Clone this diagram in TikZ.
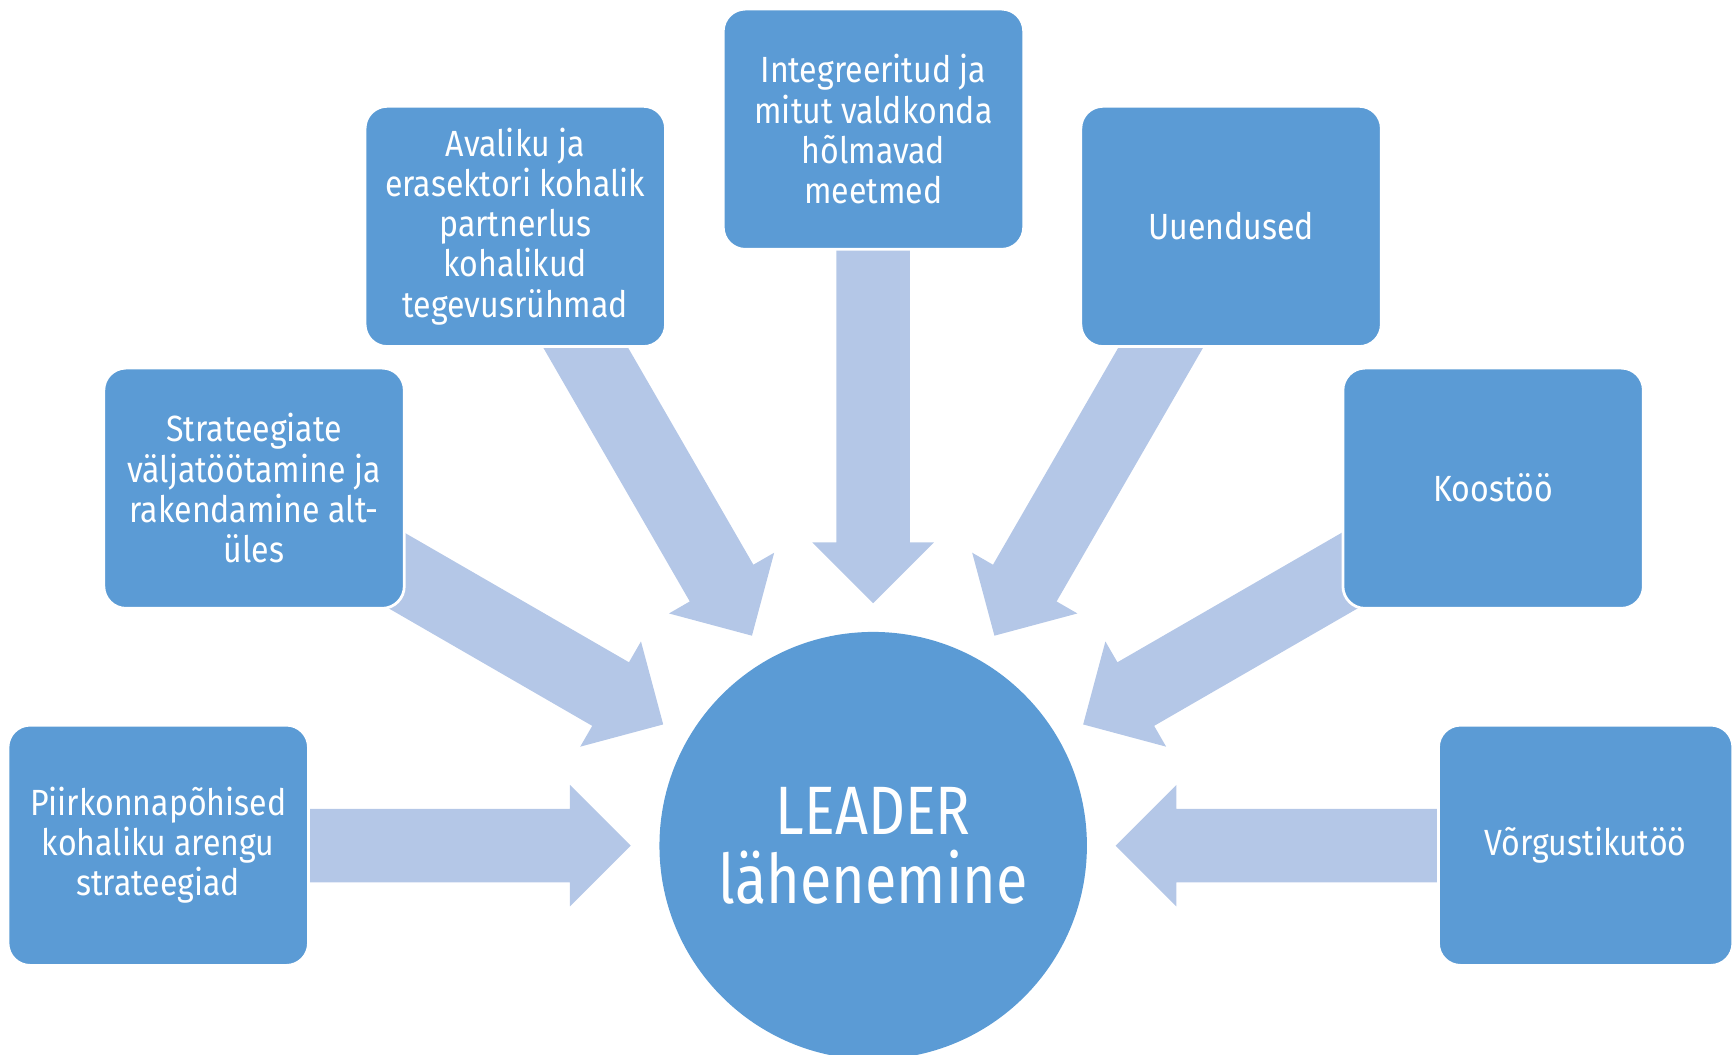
\documentclass[tikz,border=0pt]{standalone}
\usepackage{fontspec}
\setmainfont{Fira Sans}[FakeStretch=0.88]
\newfontfamily\hubfont{Fira Sans}[FakeStretch=0.84]
\definecolor{boxblue}{HTML}{5B9BD5}
\definecolor{arrowblue}{HTML}{B4C7E7}
\tikzset{
  itembox/.style={rectangle, rounded corners=20pt, fill=boxblue, draw=white, line width=2.5pt,
    minimum width=272pt, minimum height=217.5pt, text=white, align=center, inner sep=0pt,
    font=\fontsize{33}{36.4}\selectfont},
  hub/.style={circle, fill=boxblue, minimum size=387pt, inner sep=0pt, text=white, align=center,
    font=\hubfont\fontsize{62}{62}\selectfont},
  blockarrow/.style={fill=arrowblue}
}
\begin{document}
\begin{tikzpicture}[x=1pt,y=1pt]
\useasboundingbox (0,0) rectangle (1568,955);
\node[hub] (hub) at (790.5,189.4) {LEADER\\lähenemine};
\foreach \a in {180,150,120,90,60,30,0}{
  \fill[blockarrow, shift={(hub.center)}, rotate=\a]
    (219.5,0) -- (274.5,55) -- (274.5,33.25) -- (560,33.25) -- (560,-33.25)
    -- (274.5,-33.25) -- (274.5,-55) -- cycle;
}
\node[itembox] (b1) at (143.25,189.75) {Piirkonnapõhised\\kohaliku arengu\\strateegiad};
\node[itembox] (b2) at (230,513) {Strateegiate\\väljatöötamine ja\\rakendamine alt-\\üles};
\node[itembox] (b3) at (466.5,750) {Avaliku ja\\erasektori kohalik\\partnerlus\\kohalikud\\tegevusrühmad};
\node[itembox] (b4) at (790.75,838) {Integreeritud ja\\mitut valdkonda\\hõlmavad\\meetmed};
\node[itembox] (b5) at (1114.5,750) {Uuendused};
\node[itembox] (b6) at (1351.75,513) {Koostöö};
\node[itembox, minimum width=266.5pt] (b7) at (1435.5,189.75) {Võrgustikutöö};
\end{tikzpicture}
\end{document}
